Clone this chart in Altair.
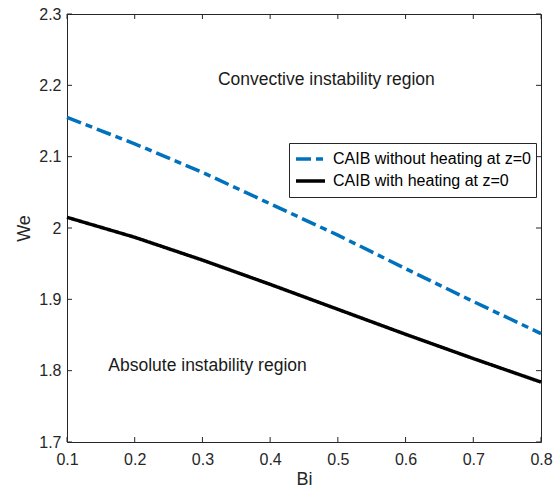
import altair as alt
import pandas as pd

bi = [0.1, 0.2, 0.3, 0.4, 0.5, 0.6, 0.7, 0.8]
we_without = [2.155, 2.118, 2.078, 2.034, 1.990, 1.943, 1.897, 1.852]
we_with = [2.015, 1.987, 1.955, 1.921, 1.886, 1.851, 1.817, 1.784]
series_names = ["CAIB without heating at z=0", "CAIB with heating at z=0"]

x_ticks = [0.1, 0.2, 0.3, 0.4, 0.5, 0.6, 0.7, 0.8]
y_ticks = [1.7, 1.8, 1.9, 2.0, 2.1, 2.2, 2.3]

ann_text = ["Convective instability region", "Absolute instability region"]
ann_bi = [0.483, 0.3075]
ann_we = [2.207, 1.806]

W, H = 474, 428
AX = "#262626"
FONT = "Liberation Sans"

rows = []
for name, vals in zip(series_names, [we_without, we_with]):
    for b, w in zip(bi, vals):
        rows.append({"Bi": b, "We": w, "series": name})
df = pd.DataFrame(rows)

xs = alt.Scale(domain=[0.1, 0.8], nice=False, zero=False)
ys = alt.Scale(domain=[1.7, 2.3], nice=False, zero=False)

leg = alt.Legend(title=None, orient="none", legendX=222, legendY=129,
                 strokeColor=AX, fillColor="white", padding=5,
                 symbolType="stroke", symbolSize=841, symbolStrokeWidth=3.5,
                 clipHeight=22, rowPadding=0, labelOffset=6, labelLimit=0,
                 labelFontSize=16, labelColor="#000000", labelFont=FONT)

lines = alt.Chart(df).mark_line(strokeWidth=3.5, strokeCap="butt").encode(
    x=alt.X("Bi:Q", scale=xs, title="Bi",
            axis=alt.Axis(values=x_ticks, format="~g", ticks=False, domain=False, grid=False,
                          labelFlush=False, labelFontSize=16, titleFontSize=18, labelPadding=9, titlePadding=3,
                          labelColor=AX, titleColor=AX, titleFontWeight="normal", labelFont=FONT, titleFont=FONT)),
    y=alt.Y("We:Q", scale=ys, title="We",
            axis=alt.Axis(values=y_ticks, format="~g", ticks=False, domain=False, grid=False,
                          labelFlush=False, labelFontSize=16, titleFontSize=18, labelPadding=6, titlePadding=5,
                          labelColor=AX, titleColor=AX, titleFontWeight="normal", labelFont=FONT, titleFont=FONT)),
    color=alt.Color("series:N", sort=series_names,
                    scale=alt.Scale(domain=series_names, range=["#0072BD", "#000000"]),
                    legend=leg),
    strokeDash=alt.StrokeDash("series:N", sort=series_names,
                              scale=alt.Scale(domain=series_names, range=[[15, 5, 7, 5], [1, 0]]),
                              legend=leg),
)

xt = pd.DataFrame({"Bi": x_ticks})
yt = pd.DataFrame({"We": y_ticks})

bottom_ticks = alt.Chart(xt).mark_rule(color=AX, strokeWidth=1).encode(
    x=alt.X("Bi:Q", scale=xs), y=alt.value(H), y2=alt.value(H - 5))
top_ticks = alt.Chart(xt).mark_rule(color=AX, strokeWidth=1).encode(
    x=alt.X("Bi:Q", scale=xs), y=alt.value(0), y2=alt.value(5))
left_ticks = alt.Chart(yt).mark_rule(color=AX, strokeWidth=1).encode(
    y=alt.Y("We:Q", scale=ys), x=alt.value(0), x2=alt.value(5))
right_ticks = alt.Chart(yt).mark_rule(color=AX, strokeWidth=1).encode(
    y=alt.Y("We:Q", scale=ys), x=alt.value(W), x2=alt.value(W - 5))

ann = alt.Chart(pd.DataFrame({"Bi": ann_bi, "We": ann_we, "t": ann_text})).mark_text(
    fontSize=17.5, font=FONT, color="#1a1a1a", align="center", baseline="middle").encode(
    x=alt.X("Bi:Q", scale=xs), y=alt.Y("We:Q", scale=ys), text="t:N")

chart = alt.layer(lines, bottom_ticks, top_ticks, left_ticks, right_ticks, ann).properties(
    width=W, height=H,
    autosize=alt.AutoSizeParams(type="none"),
    padding={"left": 67, "top": 14, "right": 12, "bottom": 54},
    background="white",
).configure_view(stroke=AX, strokeWidth=1)

chart.save("out.html", embed_options={"renderer": "svg", "actions": False})
